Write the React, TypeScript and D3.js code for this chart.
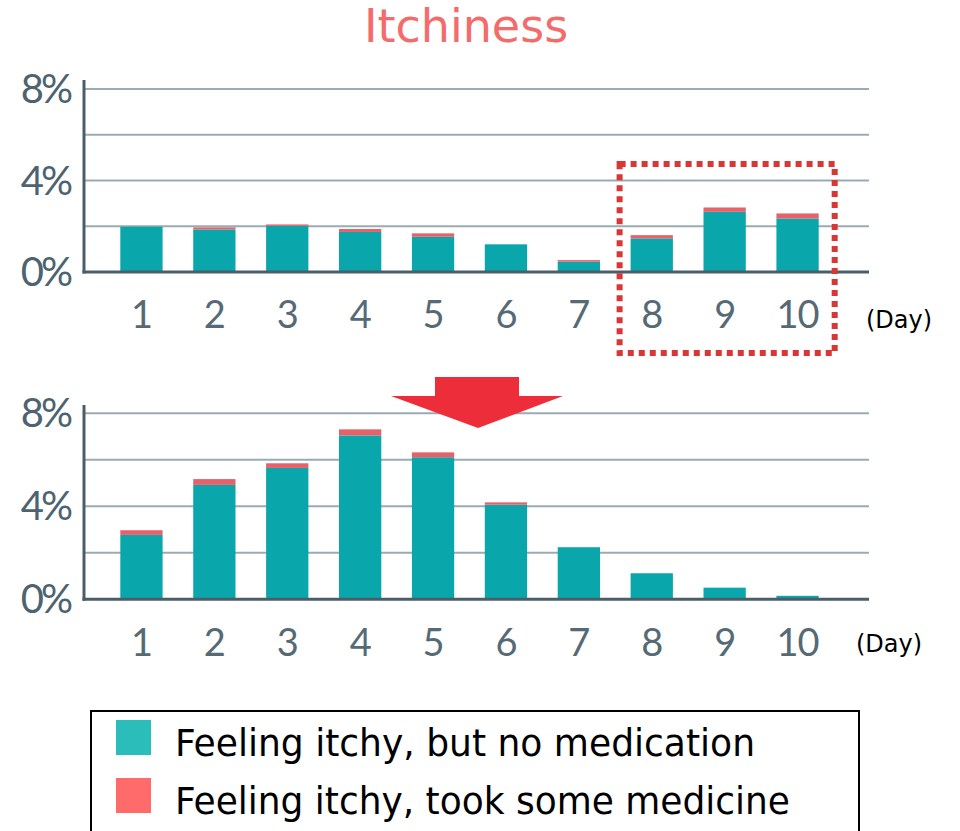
import React, { useEffect, useRef } from "react";
import * as d3 from "d3";

const days = ["1", "2", "3", "4", "5", "6", "7", "8", "9", "10"];
// top chart (before)
const topNoMed = [1.98, 1.86, 2.02, 1.75, 1.54, 1.21, 0.45, 1.47, 2.63, 2.34];
const topMed = [0, 0.09, 0.06, 0.13, 0.15, 0, 0.07, 0.14, 0.19, 0.22];
// bottom chart (after)
const botNoMed = [2.77, 4.92, 5.65, 7.05, 6.11, 4.07, 2.24, 1.12, 0.5, 0.15];
const botMed = [0.2, 0.25, 0.2, 0.26, 0.21, 0.1, 0, 0, 0, 0];
const yTicks = [0, 4, 8];
const gridTicks = [2, 4, 6, 8];
const legendLabels = ["Feeling itchy, but no medication", "Feeling itchy, took some medicine"];

const TEAL = "#09a7ac";
const RED = "#e6616a";
const AXIS = "#4a5e6a";
const GRID = "#9aabb2";

export default function App() {
  const ref = useRef<HTMLDivElement | null>(null);

  useEffect(() => {
    if (!ref.current) return;
    d3.select(ref.current).selectAll("svg").remove();

    const width = 960;
    const height = 831;

    const svg = d3
      .select(ref.current)
      .append("svg")
      .attr("width", width)
      .attr("height", height)
      .style("position", "absolute")
      .style("left", 0)
      .style("top", 0);

    const x = d3.scaleBand<string>().domain(days).range([105, 834]).paddingInner(0.42).paddingOuter(0.21);

    svg
      .append("text")
      .attr("x", 466)
      .attr("y", 42)
      .attr("text-anchor", "middle")
      .attr("font-family", "DejaVu Sans")
      .attr("font-size", 46)
      .attr("fill", "#f46b6b")
      .text("Itchiness");

    function drawChart(noMed: number[], med: number[], y0: number, y8: number, axisTop: number, labelY: number, dayX: number, dayY: number) {
      const y = d3.scaleLinear().domain([0, 8]).range([y0, y8]);
      const g = svg.append("g");

      g.selectAll(".grid")
        .data(gridTicks)
        .join("line")
        .attr("x1", 84)
        .attr("x2", 869)
        .attr("y1", (d) => y(d))
        .attr("y2", (d) => y(d))
        .attr("stroke", GRID)
        .attr("stroke-width", 2);

      const rows = days.map((d, i) => ({ day: d, a: noMed[i], b: med[i] }));

      g.selectAll(".teal")
        .data(rows)
        .join("rect")
        .attr("x", (d) => x(d.day)!)
        .attr("width", x.bandwidth())
        .attr("y", (d) => y(d.a))
        .attr("height", (d) => y(0) - y(d.a))
        .attr("fill", TEAL);

      g.selectAll(".red")
        .data(rows.filter((d) => d.b > 0))
        .join("rect")
        .attr("x", (d) => x(d.day)!)
        .attr("width", x.bandwidth())
        .attr("y", (d) => y(d.a + d.b))
        .attr("height", (d) => y(d.a) - y(d.a + d.b))
        .attr("fill", RED);

      // axes
      g.append("line")
        .attr("x1", 84)
        .attr("x2", 84)
        .attr("y1", axisTop)
        .attr("y2", y(0) + 1.5)
        .attr("stroke", AXIS)
        .attr("stroke-width", 3);
      g.append("line")
        .attr("x1", 82.5)
        .attr("x2", 869)
        .attr("y1", y(0))
        .attr("y2", y(0))
        .attr("stroke", AXIS)
        .attr("stroke-width", 3);

      g.selectAll(".ylab")
        .data(yTicks)
        .join("text")
        .attr("x", 70)
        .attr("y", (d) => y(d) + 14)
        .attr("text-anchor", "end")
        .attr("font-family", "Lato")
        .attr("font-size", 40)
        .attr("letter-spacing", -3)
        .attr("fill", "#4d6370")
        .text((d) => `${d}%`);

      g.selectAll(".xlab")
        .data(days)
        .join("text")
        .attr("x", (d) => x(d)! + x.bandwidth() / 2)
        .attr("y", labelY)
        .attr("text-anchor", "middle")
        .attr("font-family", "Lato")
        .attr("font-size", 38)
        .attr("letter-spacing", -1)
        .attr("fill", "#566a75")
        .text((d) => d);

      g.append("text")
        .attr("x", dayX)
        .attr("y", dayY)
        .attr("font-family", "DejaVu Sans")
        .attr("font-size", 24)
        .attr("fill", "#000")
        .text("(Day)");
    }

    drawChart(topNoMed, topMed, 272, 89, 80, 328, 866, 328);
    drawChart(botNoMed, botMed, 599.3, 413.3, 405, 656, 856, 652);

    // dotted highlight around days 8-10
    const hx0 = x("8")! - 11;
    const hx1 = x("10")! + x.bandwidth() + 16;
    svg
      .append("rect")
      .attr("x", hx0)
      .attr("y", 164)
      .attr("width", hx1 - hx0)
      .attr("height", 189)
      .attr("fill", "none")
      .attr("stroke", "#d93636")
      .attr("stroke-width", 6)
      .attr("stroke-dasharray", "6 5");

    // down arrow
    const arrow: [number, number][] = [
      [435, 377],
      [519, 377],
      [519, 396],
      [563, 396],
      [478, 428],
      [391, 396],
      [435, 396],
    ];
    svg
      .append("path")
      .attr("d", d3.line()(arrow) + "Z")
      .attr("fill", "#ee2d3a");

    // legend
    const lg = svg.append("g");
    lg.append("rect")
      .attr("x", 91)
      .attr("y", 711)
      .attr("width", 768)
      .attr("height", 130)
      .attr("fill", "none")
      .attr("stroke", "#000")
      .attr("stroke-width", 2);
    const legendColors = ["#2bbdb9", "#ff6b6b"];
    const legendWidths = [580, 615];
    lg.selectAll(".sw")
      .data(legendLabels)
      .join("rect")
      .attr("x", 116)
      .attr("y", (_, i) => 720 + i * 58)
      .attr("width", 35)
      .attr("height", 35)
      .attr("fill", (_, i) => legendColors[i]);
    lg.selectAll(".lt")
      .data(legendLabels)
      .join("text")
      .attr("x", 175)
      .attr("y", (_, i) => 756 + i * 58)
      .attr("font-family", "DejaVu Sans Condensed, DejaVu Sans")
      .attr("font-size", 37)
      .attr("textLength", (_, i) => legendWidths[i])
      .attr("lengthAdjust", "spacingAndGlyphs")
      .attr("fill", "#000")
      .text((d) => d);
  });

  return <div ref={ref}></div>;
}
